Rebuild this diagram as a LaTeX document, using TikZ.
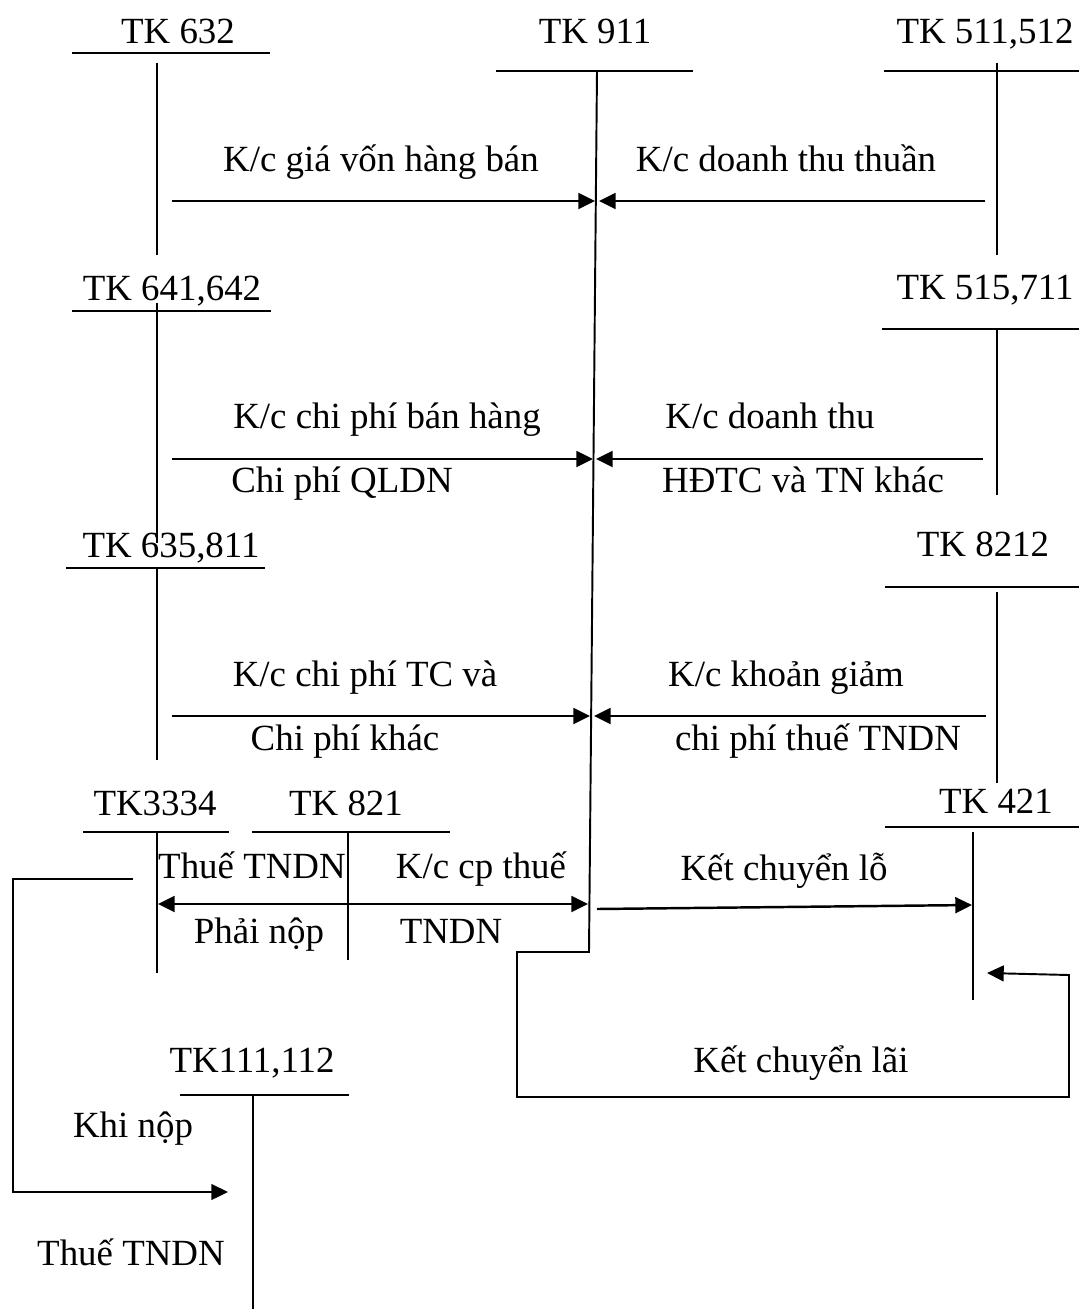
\documentclass[tikz,border=0pt]{standalone}
\usepackage{fontspec}
\setmainfont{Liberation Serif}
\usetikzlibrary{arrows.meta}
\begin{document}
\begin{tikzpicture}[x=0.02cm,y=-0.02cm,
  tip/.tip={Triangle[length=9.5pt,width=9pt]},
  tl/.style={line width=1.1pt},
  arr/.style={line width=1.4pt,-tip},
  darr/.style={line width=1.4pt,tip-tip},
  lbl/.style={anchor=base,inner sep=0pt,font=\fontsize{21}{25}\selectfont}]
\useasboundingbox (0,0) rectangle (1079,1309);

% ---------- T accounts ----------
\node[lbl] (n632) at (178,43) {TK 632};
\draw[tl] (72,53) -- (270,53);
\draw[tl] (157,63) -- (157,255);

\node[lbl] (n911) at (595,43) {TK 911};
\draw[tl] (496,71) -- (693,71);

\node[lbl] (n511) at (985,43) {TK 511,512};
\draw[tl] (884,71) -- (1079,71);
\draw[tl] (997,63) -- (997,255);

\node[lbl] (n641) at (172,300) {TK 641,642};
\draw[tl] (72,311) -- (271,311);
\draw[tl] (157,303) -- (157,543);

\node[lbl] (n515) at (985,299) {TK 515,711};
\draw[tl] (882,329) -- (1079,329);
\draw[tl] (997,329) -- (997,495);

\node[lbl] (n635) at (171,557) {TK 635,811};
\draw[tl] (66,568) -- (265,568);
\draw[tl] (157,568) -- (157,760);

\node[lbl] (n8212) at (983,556) {TK 8212};
\draw[tl] (885,587) -- (1079,587);
\draw[tl] (997,592) -- (997,783);

\node[lbl] (n3334) at (155,815) {TK3334};
\draw[tl] (83,832) -- (229,832);
\draw[tl] (157,832) -- (157,973);

\node[lbl] (n821) at (346,815) {TK 821};
\draw[tl] (252,832) -- (450,832);
\draw[tl] (348,832) -- (348,960);

\node[lbl] (n421) at (996,813) {TK 421};
\draw[tl] (885,827) -- (1079,827);
\draw[tl] (973,832) -- (973,1000);

\node[lbl] (n111) at (252,1072) {TK111,112};
\draw[tl] (180,1095) -- (349,1095);
\draw[tl] (253,1095) -- (253,1309);

% ---------- TK 911 line with profit loop ----------
\coordinate (a911) at (597,71);
\coordinate (b911) at (589,952);
\coordinate (l1) at (517,952);
\coordinate (l2) at (517,1097);
\coordinate (l3) at (1069,1097);
\coordinate (l4) at (1069,975);
\coordinate (l5) at (987,973);
\draw[tl,-tip] (a911) -- (b911) -- (l1) -- (l2) -- (l3) -- (l4) -- (l5);

% ---------- arrows ----------
\coordinate (r1a) at (172,201); \coordinate (r1b) at (595,201);
\coordinate (r1c) at (985,201); \coordinate (r1d) at (599,201);
\draw[arr] (r1a) -- (r1b);
\draw[arr] (r1c) -- (r1d);

\coordinate (r2a) at (172,459); \coordinate (r2b) at (593,459);
\coordinate (r2c) at (983,459); \coordinate (r2d) at (596,459);
\draw[arr] (r2a) -- (r2b);
\draw[arr] (r2c) -- (r2d);

\coordinate (r3a) at (172,716); \coordinate (r3b) at (590,716);
\coordinate (r3c) at (986,716); \coordinate (r3d) at (594,716);
\draw[arr] (r3a) -- (r3b);
\draw[arr] (r3c) -- (r3d);

\coordinate (r4a) at (158,904); \coordinate (r4b) at (588,904);
\draw[darr] (r4a) -- (r4b);

\coordinate (r5a) at (597,909); \coordinate (r5b) at (972,905);
\draw[arr] (r5a) -- (r5b);

\coordinate (p1) at (133,879);
\coordinate (p2) at (13,879);
\coordinate (p3) at (13,1192);
\coordinate (p4) at (228,1192);
\draw[tl,-tip] (p1) -- (p2) -- (p3) -- (p4);

% ---------- labels ----------
\node[lbl] (t1) at (381,171) {K/c giá vốn hàng bán};
\node[lbl] (t2) at (786,171) {K/c doanh thu thuần};
\node[lbl] (t3) at (387,428) {K/c chi phí bán hàng};
\node[lbl] (t4) at (342,492) {Chi phí QLDN};
\node[lbl] (t5) at (770,428) {K/c doanh thu};
\node[lbl] (t6) at (803,492) {HĐTC và TN khác};
\node[lbl] (t7) at (365,686) {K/c chi phí TC và};
\node[lbl] (t8) at (345,750) {Chi phí khác};
\node[lbl] (t9) at (786,686) {K/c khoản giảm};
\node[lbl] (t10) at (818,750) {chi phí thuế TNDN};
\node[lbl] (t11) at (252,878) {Thuế TNDN};
\node[lbl] (t12) at (481,878) {K/c cp thuế};
\node[lbl] (t13) at (259,943) {Phải nộp};
\node[lbl] (t14) at (451,943) {TNDN};
\node[lbl] (t15) at (784,880) {Kết chuyển lỗ};
\node[lbl] (t16) at (801,1072) {Kết chuyển lãi};
\node[lbl] (t17) at (133,1137) {Khi nộp};
\node[lbl] (t18) at (131,1265) {Thuế TNDN};
\end{tikzpicture}
\end{document}
